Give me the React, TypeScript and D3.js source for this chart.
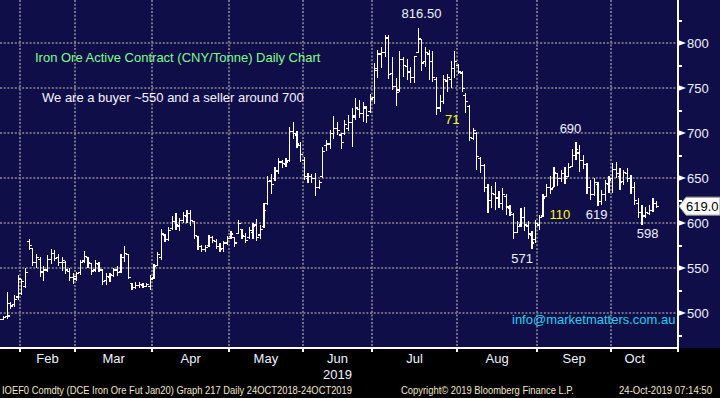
import React from 'react';
import * as d3 from 'd3';

// trading days shown per month (DCE calendar, chart starts late Jan)
const months = ['Jan', 'Feb', 'Mar', 'Apr', 'May', 'Jun', 'Jul', 'Aug', 'Sep', 'Oct'];
const tradingDays = [6, 15, 21, 21, 20, 19, 23, 22, 20, 13];

// daily OHLC (CNY/tonne)
const opens = [
  491, 493, 496, 511, 510, 518,
  522, 530, 580, 572, 556, 560, 546, 548, 560, 566, 562, 556, 556, 546, 540,
  538, 545, 558, 562, 555, 548, 554, 548, 536, 540, 542, 548, 546, 562, 565, 533, 529, 531, 531, 530, 530,
  540, 553, 562, 586, 582, 594, 602, 597, 603, 608, 611, 602, 585, 574, 571, 575, 584, 580, 574, 572, 578,
  585, 584, 589, 593, 585, 584, 590, 598, 587, 596, 622, 647, 650, 658, 668, 665, 670, 702, 698, 686,
  670, 650, 652, 650, 640, 652, 686, 688, 700, 705, 698, 700, 705, 712, 718, 726, 722, 728, 724,
  740, 770, 788, 790, 805, 766, 752, 748, 782, 774, 768, 762, 790, 804, 780, 788, 780, 760, 728, 735, 758, 760, 772,
  775, 767, 742, 730, 694, 700, 672, 664, 640, 625, 632, 628, 622, 630, 616, 610, 590, 598, 606, 597, 586, 582,
  598, 608, 630, 640, 640, 655, 650, 655, 652, 663, 675, 678, 670, 665, 640, 632, 643, 624, 632, 643,
  650, 660, 652, 646, 655, 650, 640, 622, 612, 608, 611, 614, 622,
];
const highs = [
  496, 497, 524, 513, 520, 542,
  538, 550, 582, 573, 566, 562, 552, 565, 571, 570, 566, 563, 558, 550, 545,
  546, 559, 569, 563, 556, 559, 557, 549, 545, 545, 550, 552, 566, 575, 566, 534, 535, 535, 534, 534, 542,
  555, 568, 594, 588, 596, 608, 611, 606, 613, 615, 615, 603, 586, 576, 576, 587, 586, 582, 578, 580, 586,
  591, 585, 604, 594, 589, 596, 600, 605, 598, 622, 652, 655, 662, 672, 670, 673, 707, 713, 702, 690,
  674, 656, 655, 656, 648, 685, 692, 704, 719, 712, 700, 715, 720, 728, 739, 737, 735, 730, 744,
  778, 793, 796, 809, 809, 785, 761, 791, 785, 783, 774, 786, 816.5, 805, 796, 793, 791, 762, 743, 765, 766, 780, 791,
  777, 769, 745, 731, 706, 701, 674, 666, 644, 641, 646, 636, 639, 633, 620, 611, 602, 617, 618, 602, 591, 604,
  609, 632, 644, 652, 663, 656, 659, 663, 667, 682, 690, 687, 676, 667, 648, 650, 646, 637, 648, 652,
  667, 668, 661, 659, 661, 654, 646, 628, 620, 618, 620, 628, 625,
];
const lows = [
  490, 492, 494, 505, 507, 515,
  520, 528, 570, 552, 550, 540, 536, 546, 555, 558, 552, 547, 544, 536, 533,
  536, 543, 556, 550, 543, 546, 546, 531, 531, 535, 540, 541, 545, 557, 538, 526, 527, 528, 528, 529, 526,
  538, 552, 559, 579, 580, 593, 593, 591, 600, 600, 597, 583, 570, 568, 568, 574, 578, 571, 568, 568, 576,
  583, 574, 588, 583, 578, 583, 583, 580, 583, 595, 620, 633, 647, 655, 661, 662, 668, 694, 684, 668,
  648, 645, 645, 630, 638, 650, 680, 683, 694, 698, 683, 698, 703, 685, 715, 717, 713, 711, 722,
  733, 761, 772, 785, 760, 748, 730, 746, 763, 759, 756, 756, 789, 769, 774, 759, 757, 720, 724, 733, 746, 750, 761,
  766, 746, 722, 691, 692, 659, 656, 635, 611, 617, 615, 617, 615, 609, 608, 582, 589, 596, 591, 583, 571, 578,
  593, 607, 630, 632, 640, 641, 646, 644, 652, 662, 670, 657, 660, 633, 626, 630, 619, 620, 625, 634,
  634, 650, 637, 643, 646, 633, 620, 606, 598, 606, 609, 613, 617,
];
const closes = [
  493, 495, 497, 508, 515, 538,
  535, 545, 575, 556, 562, 545, 548, 560, 566, 561, 556, 559, 548, 540, 541,
  544, 556, 563, 556, 547, 555, 549, 535, 541, 543, 548, 545, 562, 566, 540, 529, 531, 532, 530, 532, 538,
  552, 565, 588, 582, 592, 602, 598, 603, 609, 611, 603, 586, 574, 571, 573, 584, 581, 574, 571, 578, 583,
  588, 578, 600, 586, 581, 592, 596, 584, 593, 614, 646, 643, 658, 668, 666, 668, 702, 700, 688, 676,
  652, 652, 650, 640, 645, 680, 688, 700, 705, 703, 690, 710, 712, 720, 728, 722, 730, 720, 738,
  772, 788, 790, 806, 765, 752, 745, 782, 775, 768, 762, 785, 805, 778, 790, 780, 762, 728, 735, 760, 762, 772, 780,
  768, 750, 735, 695, 703, 674, 664, 640, 625, 633, 628, 622, 632, 618, 612, 590, 596, 606, 598, 588, 578, 600,
  606, 628, 640, 638, 656, 650, 655, 650, 662, 675, 682, 670, 665, 640, 632, 645, 624, 632, 644, 648,
  660, 655, 645, 656, 650, 640, 625, 612, 608, 612, 614, 622, 619,
];

const yTicks = [500, 550, 600, 650, 700, 750, 800];
const yMinor = [475, 525, 575, 625, 675, 725, 775, 825];

// labels placed on the chart: [text, bar position, price at baseline, colour]
const notes: [string, number, number, string][] = [
  ['816.50', 114.9, 828, '#eef2ff'],
  ['71', 123.3, 710, '#ffff00'],
  ['690', 155.5, 700, '#eef2ff'],
  ['110', 152.6, 605, '#ffff00'],
  ['619', 162.6, 605, '#eef2ff'],
  ['598', 176.5, 584, '#eef2ff'],
  ['571', 142.3, 556, '#eef2ff'],
];
const lastPrice = 619.0;

const W = 720;
const H = 398;
const right = 678;
const bottom = 348;
const font = '"Liberation Sans", Arial, sans-serif';

export default function App() {
  const x = d3.scaleLinear().domain([-0.5, 184.8]).range([-2, right]);
  const y = d3.scaleLinear().domain([461.4, 848]).range([bottom, 0]);

  // month boundaries in bar-index units
  const starts = d3.cumsum([0, ...tradingDays]);
  const bounds = months.map((m, i) => ({ m, s: starts[i] - 0.5, e: starts[i + 1] - 0.5, n: tradingDays[i] }));

  const tick = 2.4;
  const grid = '#8a8a96';

  return (
    <svg width={W} height={H} style={{ position: 'absolute', left: 0, top: 0 }} fontFamily={font}>
      <rect x={0} y={0} width={W} height={H} fill="#000" />
      <rect x={0} y={0} width={W} height={bottom} fill="#100e48" />

      {/* grid */}
      <g stroke={grid} strokeWidth={1.6} strokeDasharray="2,1.7">
        {yTicks.map((t) => (
          <line key={t} x1={0} x2={right} y1={Math.round(y(t))} y2={Math.round(y(t))} />
        ))}
        {bounds.slice(1).map((b) => (
          <line key={b.m} x1={Math.round(x(b.s))} x2={Math.round(x(b.s))} y1={0} y2={bottom} />
        ))}
      </g>

      {/* OHLC bars */}
      <g stroke="#fff" strokeWidth={1.2} shapeRendering="crispEdges">
        {opens.map((o, i) => {
          const cx = x(i);
          return (
            <g key={i}>
              <line x1={cx} x2={cx} y1={y(highs[i])} y2={y(lows[i])} />
              <line x1={cx - tick} x2={cx} y1={y(o)} y2={y(o)} />
              <line x1={cx} x2={cx + tick} y1={y(closes[i])} y2={y(closes[i])} />
            </g>
          );
        })}
      </g>

      {/* titles */}
      <text x={35} y={62} fontSize={13} fill="#7dff8a">Iron Ore Active Contract (CNY/Tonne) Daily Chart</text>
      <text x={42} y={102} fontSize={13} fill="#f4f4ff">We are a buyer ~550 and a seller around 700</text>
      <text x={512} y={324} fontSize={13} fill="#22d0f0">info@marketmatters.com.au</text>

      {notes.map(([t, i, v, c]) => (
        <text key={t} x={x(i)} y={y(v)} fontSize={13} fill={c} textAnchor="middle">{t}</text>
      ))}

      {/* axes */}
      <g stroke="#fff" strokeWidth={1.3} shapeRendering="crispEdges">
        <line x1={0} x2={right} y1={bottom} y2={bottom} />
        <line x1={right} x2={right} y1={0} y2={bottom + 4} />
        {bounds.slice(1).map((b) => (
          <line key={b.m} x1={Math.round(x(b.s))} x2={Math.round(x(b.s))} y1={bottom} y2={bottom + 4} />
        ))}
        {yMinor.map((t) => (
          <line key={t} x1={right} x2={right + 4} y1={Math.round(y(t))} y2={Math.round(y(t))} />
        ))}
      </g>
      {yTicks.map((t) => {
        const ty = Math.round(y(t));
        return (
          <g key={t}>
            <path d={`M${right},${ty - 3}L${right + 8},${ty}L${right},${ty + 3}Z`} fill="#fff" />
            <text x={687} y={ty + 5} fontSize={13} fill="#eef2ff">{t}</text>
          </g>
        );
      })}

      {/* last price marker */}
      <path
        d={`M${right + 1},${y(lastPrice)}L${right + 8},${y(lastPrice) - 9}L${W},${y(lastPrice) - 9}L${W},${y(lastPrice) + 9}L${right + 8},${y(lastPrice) + 9}Z`}
        fill="#fff"
        stroke="#999"
      />
      <text x={686} y={y(lastPrice) + 5} fontSize={13} fill="#000">{lastPrice.toFixed(1)}</text>

      {/* month labels */}
      {bounds.filter((b) => b.n > 10).map((b) => (
        <text key={b.m} x={x((b.s + b.e) / 2)} y={363} fontSize={13} fill="#eef2ff" textAnchor="middle">{b.m}</text>
      ))}
      <text x={x((bounds[5].s + bounds[5].e) / 2)} y={379} fontSize={13} fill="#eef2ff" textAnchor="middle">2019</text>

      {/* footer */}
      <g fontSize={10.5} fill="#f0e6c8">
        <text x={2} y={394} textLength={350} lengthAdjust="spacingAndGlyphs">IOEF0 Comdty (DCE Iron Ore Fut  Jan20) Graph 217  Daily 24OCT2018-24OCT2019</text>
        <text x={401} y={394} textLength={173} lengthAdjust="spacingAndGlyphs">Copyright© 2019 Bloomberg Finance L.P.</text>
        <text x={619} y={394} textLength={93} lengthAdjust="spacingAndGlyphs">24-Oct-2019 07:14:50</text>
      </g>
    </svg>
  );
}
